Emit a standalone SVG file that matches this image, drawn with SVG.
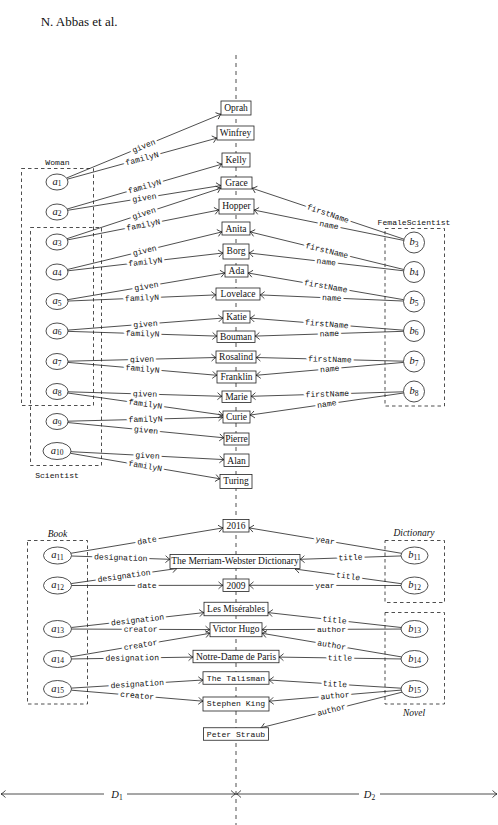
<svg xmlns="http://www.w3.org/2000/svg" width="498" height="825" viewBox="0 0 498 825">
<style>
.bg{fill:#fff}
.box{fill:#fff;stroke:#222;stroke-width:0.8}
.nd{fill:#fff;stroke:#222;stroke-width:0.8}
.grp{fill:none;stroke:#222;stroke-width:0.8;stroke-dasharray:3.5 3}
.vl{fill:none;stroke:#222;stroke-width:0.8;stroke-dasharray:4 4}
.e{fill:none;stroke:#222;stroke-width:0.8;marker-end:url(#ar)}
.d{fill:none;stroke:#222;stroke-width:0.8;marker-start:url(#ar);marker-end:url(#ar)}
.bt{font-family:"Liberation Serif",serif;font-size:9.5px;text-anchor:middle;fill:#111}
.mt{font-family:"Liberation Mono",monospace;font-size:8.1px;text-anchor:middle;fill:#111}
.lb{font-family:"Liberation Mono",monospace;font-size:8.1px;text-anchor:middle;fill:#111;stroke:#fff;stroke-width:5;stroke-linejoin:round;paint-order:stroke}
.nl{font-family:"Liberation Serif",serif;font-style:italic;font-size:10.5px;text-anchor:middle;fill:#111}
.nl tspan,.dl tspan{font-style:normal;font-size:7.5px}
.gl{font-family:"Liberation Mono",monospace;font-size:8.1px;text-anchor:middle;fill:#111}
.gi{font-family:"Liberation Serif",serif;font-style:italic;font-size:9.5px;text-anchor:middle;fill:#111}
.dl{font-family:"Liberation Serif",serif;font-style:italic;font-size:10.5px;text-anchor:middle;fill:#111}
</style>
<defs>
<marker id="ar" viewBox="-6 -5 7 10" refX="0" refY="0" markerWidth="7" markerHeight="10" markerUnits="userSpaceOnUse" orient="auto-start-reverse"><path d="M-4.5,-3.5 Q-1.5,-0.6 0,0 Q-1.5,0.6 -4.5,3.5" fill="none" stroke="#222" stroke-width="0.8"/></marker>
</defs>
<rect class="bg" x="0" y="0" width="498" height="825"/>
<text x="40.7" y="26" font-family="Liberation Serif, serif" font-size="13" fill="#111">N. Abbas et al.</text>
<g id="axis">
<path class="vl" d="M236,55 V825"/>
</g>
<g id="groups">
<g id="Woman"><rect class="grp" x="21.5" y="168.5" width="72" height="237"/><text class="gl" x="57.5" y="165">Woman</text></g>
<g id="Scientist"><rect class="grp" x="30.5" y="227.5" width="71" height="238"/><text class="gl" x="57" y="477.5">Scientist</text></g>
<g id="FemaleScientist"><rect class="grp" x="385" y="228.5" width="59.5" height="177.5"/><text class="gl" x="414" y="225">FemaleScientist</text></g>
<g id="Book"><rect class="grp" x="27.5" y="540.5" width="60" height="163.5"/><text class="gi" x="57.5" y="537">Book</text></g>
<g id="Dictionary"><rect class="grp" x="385" y="540.5" width="59.5" height="62"/><text class="gi" x="414" y="536">Dictionary</text></g>
<g id="Novel"><rect class="grp" x="385" y="612.5" width="59.5" height="91.5"/><text class="gi" x="414" y="715.5">Novel</text></g>
</g>
<g id="connectors">
<path class="e" d="M66.6,178.0 L221,114.2"/>
<path class="e" d="M67.3,179.2 L217,138.1"/>
<path class="e" d="M67.2,209.0 L222,164.1"/>
<path class="e" d="M67.7,210.3 L221,185.5"/>
<path class="e" d="M67.0,238.7 L221,188.1"/>
<path class="e" d="M67.6,239.9 L219,210.0"/>
<path class="e" d="M67.4,269.5 L222,231.9"/>
<path class="e" d="M67.9,270.8 L223,253.0"/>
<path class="e" d="M67.7,299.7 L225,273.0"/>
<path class="e" d="M68.0,301.05 L216,294.9"/>
<path class="e" d="M67.9,330.1 L223,318.05"/>
<path class="e" d="M68.0,331.35 L217,336.1"/>
<path class="e" d="M68.0,361.2 L216,357.5"/>
<path class="e" d="M67.9,362.4 L217,375.3"/>
<path class="e" d="M68.0,391.8 L222,396.3"/>
<path class="e" d="M67.8,393.0 L223,415.1"/>
<path class="e" d="M68.0,421.2 L223,417.3"/>
<path class="e" d="M67.9,422.56 L224,437.8"/>
<path class="e" d="M70.9,451.7 L224,459.6"/>
<path class="e" d="M70.5,453.3 L220,478.8"/>
<path class="e" d="M404.0,239.2 L252,188.2"/>
<path class="e" d="M403.7,240.4 L254,210.05"/>
<path class="e" d="M403.8,269.5 L250,231.9"/>
<path class="e" d="M403.6,270.8 L249,253.0"/>
<path class="e" d="M403.65,299.7 L248,273.0"/>
<path class="e" d="M403.5,301.05 L260,294.9"/>
<path class="e" d="M403.5,330.2 L250,318.1"/>
<path class="e" d="M403.5,331.3 L255,336.1"/>
<path class="e" d="M403.5,361.2 L256,357.5"/>
<path class="e" d="M403.5,362.4 L256,375.3"/>
<path class="e" d="M403.5,391.8 L251,396.3"/>
<path class="e" d="M403.6,393.0 L250,415.1"/>
<path class="e" d="M71.0,553.25 L223,527.9"/>
<path class="e" d="M71.5,556.0 L170,559.3"/>
<path class="e" d="M71.1,583.6 L177,568.5"/>
<path class="e" d="M71.5,585.5 L223,585.3"/>
<path class="e" d="M71.3,627.5 L204,612.6"/>
<path class="e" d="M71.5,629.05 L210,629.6"/>
<path class="e" d="M71.0,656.8 L210,633.3"/>
<path class="e" d="M71.5,658.96 L193,657.1"/>
<path class="e" d="M71.4,688.1 L203,680.0"/>
<path class="e" d="M71.4,690.2 L203,701.2"/>
<path class="e" d="M401.45,553.3 L249,527.9"/>
<path class="e" d="M401.0,555.95 L300,559.3"/>
<path class="e" d="M401.3,583.7 L295,569"/>
<path class="e" d="M401,585.5 L249,585.3"/>
<path class="e" d="M401.2,627.5 L268,612.6"/>
<path class="e" d="M401,629.05 L262,629.6"/>
<path class="e" d="M401.4,656.9 L262,633.3"/>
<path class="e" d="M401,658.96 L279,657.1"/>
<path class="e" d="M401.1,688.2 L269,680.0"/>
<path class="e" d="M401.1,690.1 L269,701.2"/>
<path class="e" d="M402.0,692.2 L260.8,727.75"/>
<path class="d" d="M1,794 H235.5"/>
<path class="d" d="M236.5,794 H497"/>
<g id="edge-labels">
<text class="lb" transform="translate(143.8,146.1) rotate(-22.46)" y="2.5">given</text>
<text class="lb" transform="translate(142.1,158.7) rotate(-15.35)" y="2.5">familyN</text>
<text class="lb" transform="translate(144.6,186.5) rotate(-16.2)" y="2.5">familyN</text>
<text class="lb" transform="translate(144.4,197.9) rotate(-9.18)" y="2.5">given</text>
<text class="lb" transform="translate(144,213.4) rotate(-18.2)" y="2.5">given</text>
<text class="lb" transform="translate(143.3,225) rotate(-11.19)" y="2.5">familyN</text>
<text class="lb" transform="translate(144.7,250.7) rotate(-13.66)" y="2.5">given</text>
<text class="lb" transform="translate(145.4,261.9) rotate(-6.53)" y="2.5">familyN</text>
<text class="lb" transform="translate(146.4,286.35) rotate(-9.64)" y="2.5">given</text>
<text class="lb" transform="translate(142,298) rotate(-2.37)" y="2.5">familyN</text>
<text class="lb" transform="translate(145.5,324.1) rotate(-4.46)" y="2.5">given</text>
<text class="lb" transform="translate(142.5,333.7) rotate(1.84)" y="2.5">familyN</text>
<text class="lb" transform="translate(142,359.35) rotate(-1.44)" y="2.5">given</text>
<text class="lb" transform="translate(142.5,368.9) rotate(4.94)" y="2.5">familyN</text>
<text class="lb" transform="translate(145,394.05) rotate(1.68)" y="2.5">given</text>
<text class="lb" transform="translate(145.4,404.05) rotate(8.09)" y="2.5">familyN</text>
<text class="lb" transform="translate(145.5,419.25) rotate(-1.44)" y="2.5">familyN</text>
<text class="lb" transform="translate(146,430.2) rotate(5.57)" y="2.5">given</text>
<text class="lb" transform="translate(147.5,455.65) rotate(2.95)" y="2.5">given</text>
<text class="lb" transform="translate(145.3,466.05) rotate(9.67)" y="2.5">familyN</text>
<text class="lb" transform="translate(328,213.7) rotate(18.53)" y="2.5">firstName</text>
<text class="lb" transform="translate(328.9,225.2) rotate(11.46)" y="2.5">name</text>
<text class="lb" transform="translate(326.9,250.7) rotate(13.73)" y="2.5">firstName</text>
<text class="lb" transform="translate(326.3,261.9) rotate(6.57)" y="2.5">name</text>
<text class="lb" transform="translate(325.8,286.35) rotate(9.75)" y="2.5">firstName</text>
<text class="lb" transform="translate(331.8,298) rotate(2.44)" y="2.5">name</text>
<text class="lb" transform="translate(326.8,324.1) rotate(4.51)" y="2.5">firstName</text>
<text class="lb" transform="translate(329.3,333.7) rotate(-1.85)" y="2.5">name</text>
<text class="lb" transform="translate(329.8,359.4) rotate(1.45)" y="2.5">firstName</text>
<text class="lb" transform="translate(329.8,368.9) rotate(-4.99)" y="2.5">name</text>
<text class="lb" transform="translate(327.3,394.05) rotate(-1.69)" y="2.5">firstName</text>
<text class="lb" transform="translate(326.8,404.05) rotate(-8.18)" y="2.5">name</text>
<text class="lb" transform="translate(147,540.6) rotate(-9.46)" y="2.5">date</text>
<text class="lb" transform="translate(120.75,557.65) rotate(1.94)" y="2.5">designation</text>
<text class="lb" transform="translate(124,576) rotate(-8.1)" y="2.5">designation</text>
<text class="lb" transform="translate(147,585.4)" y="2.5">date</text>
<text class="lb" transform="translate(137.6,620.05) rotate(-6.39)" y="2.5">designation</text>
<text class="lb" transform="translate(140.7,629.3) rotate(0.24)" y="2.5">creator</text>
<text class="lb" transform="translate(140.5,645.05) rotate(-9.31)" y="2.5">creator</text>
<text class="lb" transform="translate(132.25,658) rotate(-0.8)" y="2.5">designation</text>
<text class="lb" transform="translate(137.2,684.05) rotate(-3.53)" y="2.5">designation</text>
<text class="lb" transform="translate(137.2,695.7) rotate(4.8)" y="2.5">creator</text>
<text class="lb" transform="translate(325.2,540.6) rotate(9.46)" y="2.5">year</text>
<text class="lb" transform="translate(350.5,557.6) rotate(-1.91)" y="2.5">title</text>
<text class="lb" transform="translate(348.2,576.35) rotate(7.86)" y="2.5">title</text>
<text class="lb" transform="translate(325,585.4)" y="2.5">year</text>
<text class="lb" transform="translate(334.6,620.05) rotate(6.39)" y="2.5">title</text>
<text class="lb" transform="translate(331.5,629.3)" y="2.5">author</text>
<text class="lb" transform="translate(331.7,645.1) rotate(9.31)" y="2.5">author</text>
<text class="lb" transform="translate(340,658) rotate(0.8)" y="2.5">title</text>
<text class="lb" transform="translate(335,684.1) rotate(3.53)" y="2.5">title</text>
<text class="lb" transform="translate(335,695.7) rotate(-4.8)" y="2.5">author</text>
<text class="lb" transform="translate(331.4,710) rotate(-14.15)" y="2.5">author</text>
<rect class="bg" x="104" y="788" width="23" height="12"/>
<rect class="bg" x="359" y="788" width="21" height="12"/>
<text class="dl" x="117" y="797.5">D<tspan dy="2">1</tspan></text>
<text class="dl" x="369.5" y="797.5">D<tspan dy="2">2</tspan></text>
</g>
</g>
<g id="values">
<g id="Oprah"><rect class="box" x="221" y="101" width="30" height="14"/><text class="bt" x="236" y="110.6">Oprah</text></g>
<g id="Winfrey"><rect class="box" x="217" y="126" width="37" height="14"/><text class="bt" x="235.5" y="135.6">Winfrey</text></g>
<g id="Kelly"><rect class="box" x="222" y="153" width="28" height="14"/><text class="bt" x="236" y="162.6">Kelly</text></g>
<g id="Grace"><rect class="box" x="221" y="177" width="31" height="12"/><text class="bt" x="236.5" y="186.4">Grace</text></g>
<g id="Hopper"><rect class="box" x="219" y="199" width="35" height="15"/><text class="bt" x="236.5" y="208.6">Hopper</text></g>
<g id="Anita"><rect class="box" x="222" y="222" width="28" height="13"/><text class="bt" x="236" y="231.6">Anita</text></g>
<g id="Borg"><rect class="box" x="223" y="244" width="26" height="15"/><text class="bt" x="236" y="253.6">Borg</text></g>
<g id="Ada"><rect class="box" x="225" y="265" width="23" height="12"/><text class="bt" x="236.5" y="274.4">Ada</text></g>
<g id="Lovelace"><rect class="box" x="216" y="288" width="44" height="12"/><text class="bt" x="238" y="297.4">Lovelace</text></g>
<g id="Katie"><rect class="box" x="223" y="311" width="27" height="12"/><text class="bt" x="236.5" y="320.4">Katie</text></g>
<g id="Bouman"><rect class="box" x="217" y="331" width="38" height="11.5"/><text class="bt" x="236" y="340.3">Bouman</text></g>
<g id="Rosalind"><rect class="box" x="216" y="351" width="40" height="12"/><text class="bt" x="236" y="360.4">Rosalind</text></g>
<g id="Franklin"><rect class="box" x="217" y="371" width="39" height="12"/><text class="bt" x="236.5" y="380.4">Franklin</text></g>
<g id="Marie"><rect class="box" x="222" y="391" width="29" height="11.5"/><text class="bt" x="236.5" y="400.3">Marie</text></g>
<g id="Curie"><rect class="box" x="223" y="411" width="27" height="12"/><text class="bt" x="236.5" y="420.4">Curie</text></g>
<g id="Pierre"><rect class="box" x="224" y="433" width="25" height="12"/><text class="bt" x="236.5" y="442.4">Pierre</text></g>
<g id="Alan"><rect class="box" x="224" y="454" width="25" height="12.5"/><text class="bt" x="236.5" y="463.5">Alan</text></g>
<g id="Turing"><rect class="box" x="220" y="474.5" width="32" height="14"/><text class="bt" x="236" y="484">Turing</text></g>
<g id="y2016"><rect class="box" x="223" y="519.5" width="26" height="12.5"/><text class="bt" x="236" y="529">2016</text></g>
<g id="MerriamWebster"><rect class="box" x="170" y="554.5" width="130" height="14"/><text class="bt" x="235" y="564.2">The Merriam-Webster Dictionary</text></g>
<g id="y2009"><rect class="box" x="223" y="579" width="26" height="12.5"/><text class="bt" x="236" y="588.5">2009</text></g>
<g id="LesMiserables"><rect class="box" x="204" y="602.25" width="64" height="13.5"/><text class="bt" x="236" y="612">Les Misérables</text></g>
<g id="VictorHugo"><rect class="box" x="210" y="622.75" width="52" height="14"/><text class="bt" x="236" y="632.4">Victor Hugo</text></g>
<g id="NotreDame"><rect class="box" x="193" y="650.25" width="86" height="12.5"/><text class="bt" x="236" y="659.7">Notre-Dame de Paris</text></g>
<g id="Talisman"><rect class="box" x="203" y="671.75" width="66" height="12.5"/><text class="mt" x="236" y="680.6">The Talisman</text></g>
<g id="StephenKing"><rect class="box" x="203" y="697" width="66" height="14"/><text class="mt" x="236" y="705.8">Stephen King</text></g>
<g id="PeterStraub"><rect class="box" x="203.5" y="727.75" width="65" height="12.5"/><text class="mt" x="236" y="736.6">Peter Straub</text></g>
</g>
<g id="entities">
<g id="a1"><ellipse class="nd" cx="57" cy="182" rx="11" ry="8"/><text class="nl" x="57" y="184.5">a<tspan dy="1.8">1</tspan></text></g>
<g id="a2"><ellipse class="nd" cx="57" cy="212" rx="11" ry="8"/><text class="nl" x="57" y="214.5">a<tspan dy="1.8">2</tspan></text></g>
<g id="a3"><ellipse class="nd" cx="57" cy="242" rx="11" ry="8"/><text class="nl" x="57" y="244.5">a<tspan dy="1.8">3</tspan></text></g>
<g id="a4"><ellipse class="nd" cx="57" cy="272" rx="11" ry="8"/><text class="nl" x="57" y="274.5">a<tspan dy="1.8">4</tspan></text></g>
<g id="a5"><ellipse class="nd" cx="57" cy="301.5" rx="11" ry="8"/><text class="nl" x="57" y="304">a<tspan dy="1.8">5</tspan></text></g>
<g id="a6"><ellipse class="nd" cx="57" cy="331" rx="11" ry="8"/><text class="nl" x="57" y="333.5">a<tspan dy="1.8">6</tspan></text></g>
<g id="a7"><ellipse class="nd" cx="57" cy="361.5" rx="11" ry="8"/><text class="nl" x="57" y="364">a<tspan dy="1.8">7</tspan></text></g>
<g id="a8"><ellipse class="nd" cx="57" cy="391.5" rx="11" ry="8"/><text class="nl" x="57" y="394">a<tspan dy="1.8">8</tspan></text></g>
<g id="a9"><ellipse class="nd" cx="57" cy="421.5" rx="11" ry="8"/><text class="nl" x="57" y="424">a<tspan dy="1.8">9</tspan></text></g>
<g id="a10"><ellipse class="nd" cx="57" cy="451" rx="14" ry="8.5"/><text class="nl" x="57" y="453.5">a<tspan dy="1.8">10</tspan></text></g>
<g id="a11"><ellipse class="nd" cx="57.5" cy="555.5" rx="14" ry="8.5"/><text class="nl" x="57.5" y="558">a<tspan dy="1.8">11</tspan></text></g>
<g id="a12"><ellipse class="nd" cx="57.5" cy="585.5" rx="14" ry="8.5"/><text class="nl" x="57.5" y="588">a<tspan dy="1.8">12</tspan></text></g>
<g id="a13"><ellipse class="nd" cx="57.5" cy="629" rx="14" ry="8.5"/><text class="nl" x="57.5" y="631.5">a<tspan dy="1.8">13</tspan></text></g>
<g id="a14"><ellipse class="nd" cx="57.5" cy="659" rx="14" ry="8.5"/><text class="nl" x="57.5" y="661.5">a<tspan dy="1.8">14</tspan></text></g>
<g id="a15"><ellipse class="nd" cx="57.5" cy="689" rx="14" ry="8.5"/><text class="nl" x="57.5" y="691.5">a<tspan dy="1.8">15</tspan></text></g>
<g id="b3"><circle class="nd" cx="414" cy="242.5" r="10.5"/><text class="nl" x="414" y="245">b<tspan dy="1.8">3</tspan></text></g>
<g id="b4"><circle class="nd" cx="414" cy="272" r="10.5"/><text class="nl" x="414" y="274.5">b<tspan dy="1.8">4</tspan></text></g>
<g id="b5"><circle class="nd" cx="414" cy="301.5" r="10.5"/><text class="nl" x="414" y="304">b<tspan dy="1.8">5</tspan></text></g>
<g id="b6"><circle class="nd" cx="414" cy="331" r="10.5"/><text class="nl" x="414" y="333.5">b<tspan dy="1.8">6</tspan></text></g>
<g id="b7"><circle class="nd" cx="414" cy="361.5" r="10.5"/><text class="nl" x="414" y="364">b<tspan dy="1.8">7</tspan></text></g>
<g id="b8"><circle class="nd" cx="414" cy="391.5" r="10.5"/><text class="nl" x="414" y="394">b<tspan dy="1.8">8</tspan></text></g>
<g id="b11"><ellipse class="nd" cx="414.5" cy="555.5" rx="13.5" ry="8.5"/><text class="nl" x="414.5" y="558">b<tspan dy="1.8">11</tspan></text></g>
<g id="b12"><ellipse class="nd" cx="414.5" cy="585.5" rx="13.5" ry="8.5"/><text class="nl" x="414.5" y="588">b<tspan dy="1.8">12</tspan></text></g>
<g id="b13"><ellipse class="nd" cx="414.5" cy="629" rx="13.5" ry="8.5"/><text class="nl" x="414.5" y="631.5">b<tspan dy="1.8">13</tspan></text></g>
<g id="b14"><ellipse class="nd" cx="414.5" cy="659" rx="13.5" ry="8.5"/><text class="nl" x="414.5" y="661.5">b<tspan dy="1.8">14</tspan></text></g>
<g id="b15"><ellipse class="nd" cx="414.5" cy="689" rx="13.5" ry="8.5"/><text class="nl" x="414.5" y="691.5">b<tspan dy="1.8">15</tspan></text></g>
</g>
</svg>
